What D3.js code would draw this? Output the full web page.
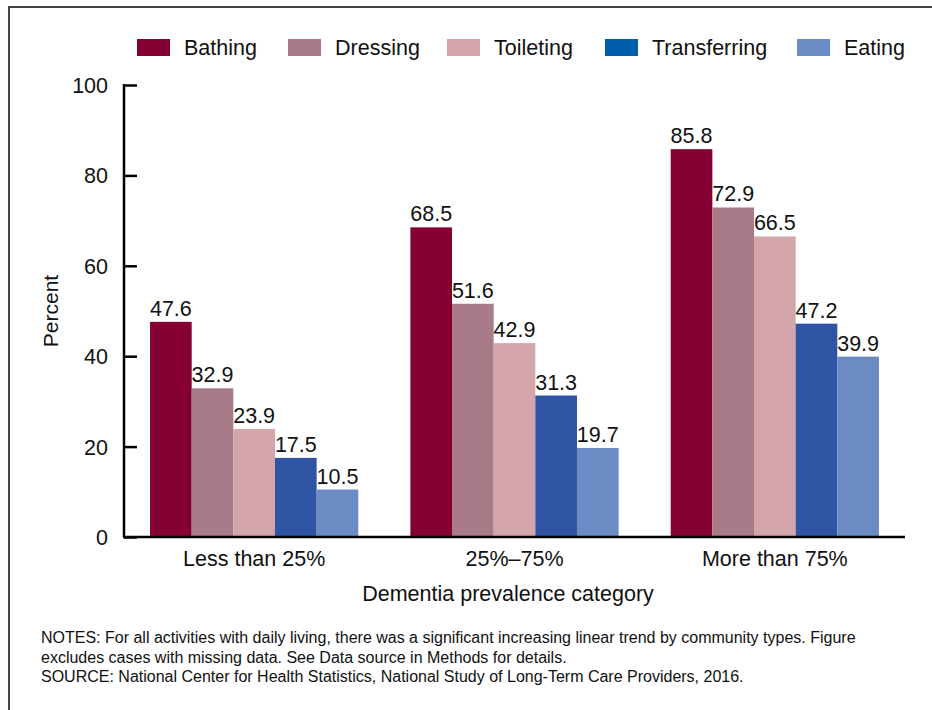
<!DOCTYPE html>
<html>
<head>
<meta charset="utf-8">
<script src="https://cdn.jsdelivr.net/npm/d3@7"></script>
<style>
  html, body { margin: 0; padding: 0; background: #fff; }
  svg { display: block; font-family: "Liberation Sans", Arial, sans-serif; }
</style>
</head>
<body>
<svg id="chart" width="932" height="710"></svg>
<script>
const categories = ["Less than 25%", "25%\u201375%", "More than 75%"];
const seriesNames = ["Bathing", "Dressing", "Toileting", "Transferring", "Eating"];
const bathing = [47.6, 68.5, 85.8];
const dressing = [32.9, 51.6, 72.9];
const toileting = [23.9, 42.9, 66.5];
const transferring = [17.5, 31.3, 47.2];
const eating = [10.5, 19.7, 39.9];
const yTicks = [0, 20, 40, 60, 80, 100];
const barColors = ["#850033", "#a97b88", "#d4a6ab", "#2e54a3", "#6b8bc4"];
const legendColors = ["#850033", "#a97b88", "#d4a6ab", "#005eac", "#6b8bc4"];
const notes = [
  "NOTES: For all activities with daily living, there was a significant increasing linear trend by community types. Figure",
  "excludes cases with missing data. See Data source in Methods for details.",
  "SOURCE: National Center for Health Statistics, National Study of Long-Term Care Providers, 2016."
];

const seriesValues = [bathing, dressing, toileting, transferring, eating];
const svg = d3.select("#chart");
const FONT = "'Liberation Sans', Arial, sans-serif";

// frame
svg.append("path")
  .attr("d", "M9,712 L9,7 L934,7")
  .attr("fill", "none").attr("stroke", "#444").attr("stroke-width", 2);

const x0 = d3.scaleBand().domain(categories).range([124, 905]).paddingInner(0.2).paddingOuter(0.1);
const x1 = d3.scaleBand().domain(seriesNames).range([0, x0.bandwidth()]);
const y = d3.scaleLinear().domain([0, 100]).range([537, 85]);

// bars
const groups = svg.append("g").selectAll("g").data(categories).join("g")
  .attr("transform", d => `translate(${x0(d)},0)`);
groups.selectAll("rect")
  .data((c, ci) => seriesNames.map((s, si) => ({ s, si, v: seriesValues[si][ci] })))
  .join("rect")
  .attr("x", d => x1(d.s))
  .attr("y", d => y(d.v))
  .attr("width", x1.bandwidth())
  .attr("height", d => y(0) - y(d.v))
  .attr("fill", d => barColors[d.si]);
groups.selectAll("text")
  .data((c, ci) => seriesNames.map((s, si) => ({ s, si, v: seriesValues[si][ci] })))
  .join("text")
  .attr("x", d => x1(d.s) + x1.bandwidth() / 2)
  .attr("y", d => y(d.v) - 6)
  .attr("text-anchor", "middle")
  .attr("font-size", 21.5)
  .attr("fill", "#111")
  .text(d => d.v.toFixed(1));

// y axis
const yAxis = svg.append("g").attr("transform", "translate(124,0)")
  .call(d3.axisRight(y).tickValues(yTicks).tickSize(13).tickFormat(d3.format("d")));
yAxis.select(".domain").attr("stroke", "#000").attr("stroke-width", 2.5).attr("d", `M0,${y(100) - 1}V${y(0)}`);
yAxis.selectAll(".tick line").attr("stroke", "#000").attr("stroke-width", 2.5);
yAxis.selectAll(".tick text")
  .attr("x", -16).attr("text-anchor", "end").attr("dy", "0.35em")
  .attr("font-size", 21.5).attr("fill", "#111")
  .attr("font-family", FONT);

// x axis
const xAxis = svg.append("g").attr("transform", `translate(0,${y(0)})`)
  .call(d3.axisBottom(x0).tickSize(0).tickPadding(14));
xAxis.select(".domain").attr("stroke", "#000").attr("stroke-width", 2.5).attr("d", "M123,0H905");
xAxis.selectAll(".tick text")
  .attr("font-size", 21.5).attr("fill", "#111")
  .attr("font-family", FONT);

// axis titles
svg.append("text")
  .attr("x", 508).attr("y", 601)
  .attr("text-anchor", "middle").attr("font-size", 21.5).attr("fill", "#111")
  .text("Dementia prevalence category");
svg.append("text")
  .attr("transform", `translate(58,${y(50)}) rotate(-90)`)
  .attr("text-anchor", "middle").attr("font-size", 21).attr("fill", "#111")
  .text("Percent");

// legend
const legendX = [137, 288, 447, 605, 797];
const lg = svg.append("g").selectAll("g").data(seriesNames).join("g")
  .attr("transform", (d, i) => `translate(${legendX[i]},39)`);
lg.append("rect").attr("width", 33).attr("height", 17).attr("fill", (d, i) => legendColors[i]);
lg.append("text").attr("x", 47).attr("y", 16).attr("font-size", 21.5).attr("fill", "#111").text(d => d);

// notes
svg.append("g").selectAll("text").data(notes).join("text")
  .attr("x", 41).attr("y", (d, i) => 643 + i * 19.5)
  .attr("font-size", 16).attr("fill", "#111").text(d => d);
</script>
</body>
</html>
